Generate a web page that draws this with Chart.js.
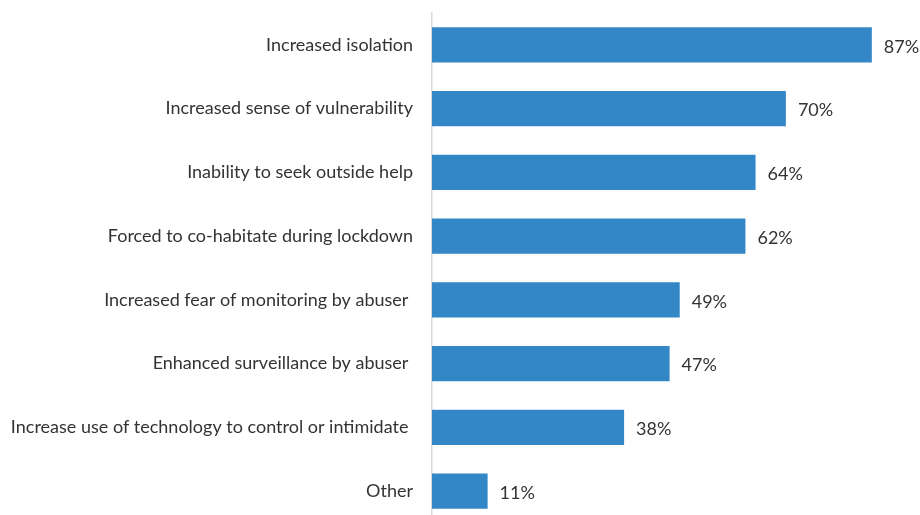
<!DOCTYPE html>
<html>
<head>
<meta charset="utf-8">
<script src="https://cdn.jsdelivr.net/npm/chart.js@4"></script>
<style>
    html, body { margin: 0; padding: 0; background: #fff; overflow: hidden; }
    #barChart { display: block; }
</style>
</head>
<body>
<canvas id="barChart" width="920" height="523"></canvas>
<script>
// Chart data
const categories = [
    'Increased isolation',
    'Increased sense of vulnerability',
    'Inability to seek outside help',
    'Forced to co-habitate during lockdown',
    'Increased fear of monitoring by abuser ',
    'Enhanced surveillance by abuser ',
    'Increase use of technology to control or intimidate ',
    'Other'
];
const values = [87, 70, 64, 62, 49, 47, 38, 11];
const valueLabels = ['87%', '70%', '64%', '62%', '49%', '47%', '38%', '11%'];

const FONT = 'Lato';
const FONT_SIZE = 18;

// Draws the percentage next to each bar
const valueLabelPlugin = {
    id: 'valueLabels',
    afterDatasetsDraw: function(chart) {
        const ctx = chart.ctx;
        const meta = chart.getDatasetMeta(0);
        ctx.save();
        ctx.font = FONT_SIZE + 'px ' + FONT;
        ctx.fillStyle = '#333333';
        ctx.textAlign = 'left';
        ctx.textBaseline = 'middle';
        meta.data.forEach(function(bar, i) {
            ctx.fillText(valueLabels[i], bar.x + 12, bar.y + 2);
        });
        ctx.restore();
    }
};

const ctx = document.getElementById('barChart').getContext('2d');
const barChart = new Chart(ctx, {
    type: 'bar',
    data: {
        labels: categories,
        datasets: [{
            data: values,
            backgroundColor: '#3487c7',
            borderWidth: 0,
            categoryPercentage: 1,
            barPercentage: 0.55
        }]
    },
    options: {
        indexAxis: 'y',
        responsive: false,
        animation: false,
        layout: {
            padding: { top: 13, right: 33, bottom: 0, left: 0 }
        },
        plugins: {
            legend: { display: false },
            tooltip: { enabled: false }
        },
        scales: {
            x: {
                display: false,
                min: 0,
                max: 90
            },
            y: {
                afterFit: function(scale) {
                    scale.width = 432;
                    scale.paddingTop = 0;   // no extra room for the label halves
                    scale.paddingBottom = 0;
                },
                grid: { display: false, drawTicks: false },
                border: { display: true, color: '#d9d9d9', width: 1.5 },
                ticks: {
                    padding: 19,
                    color: '#333333',
                    font: { family: FONT, size: FONT_SIZE }
                }
            }
        }
    },
    plugins: [valueLabelPlugin]
});
</script>
</body>
</html>
